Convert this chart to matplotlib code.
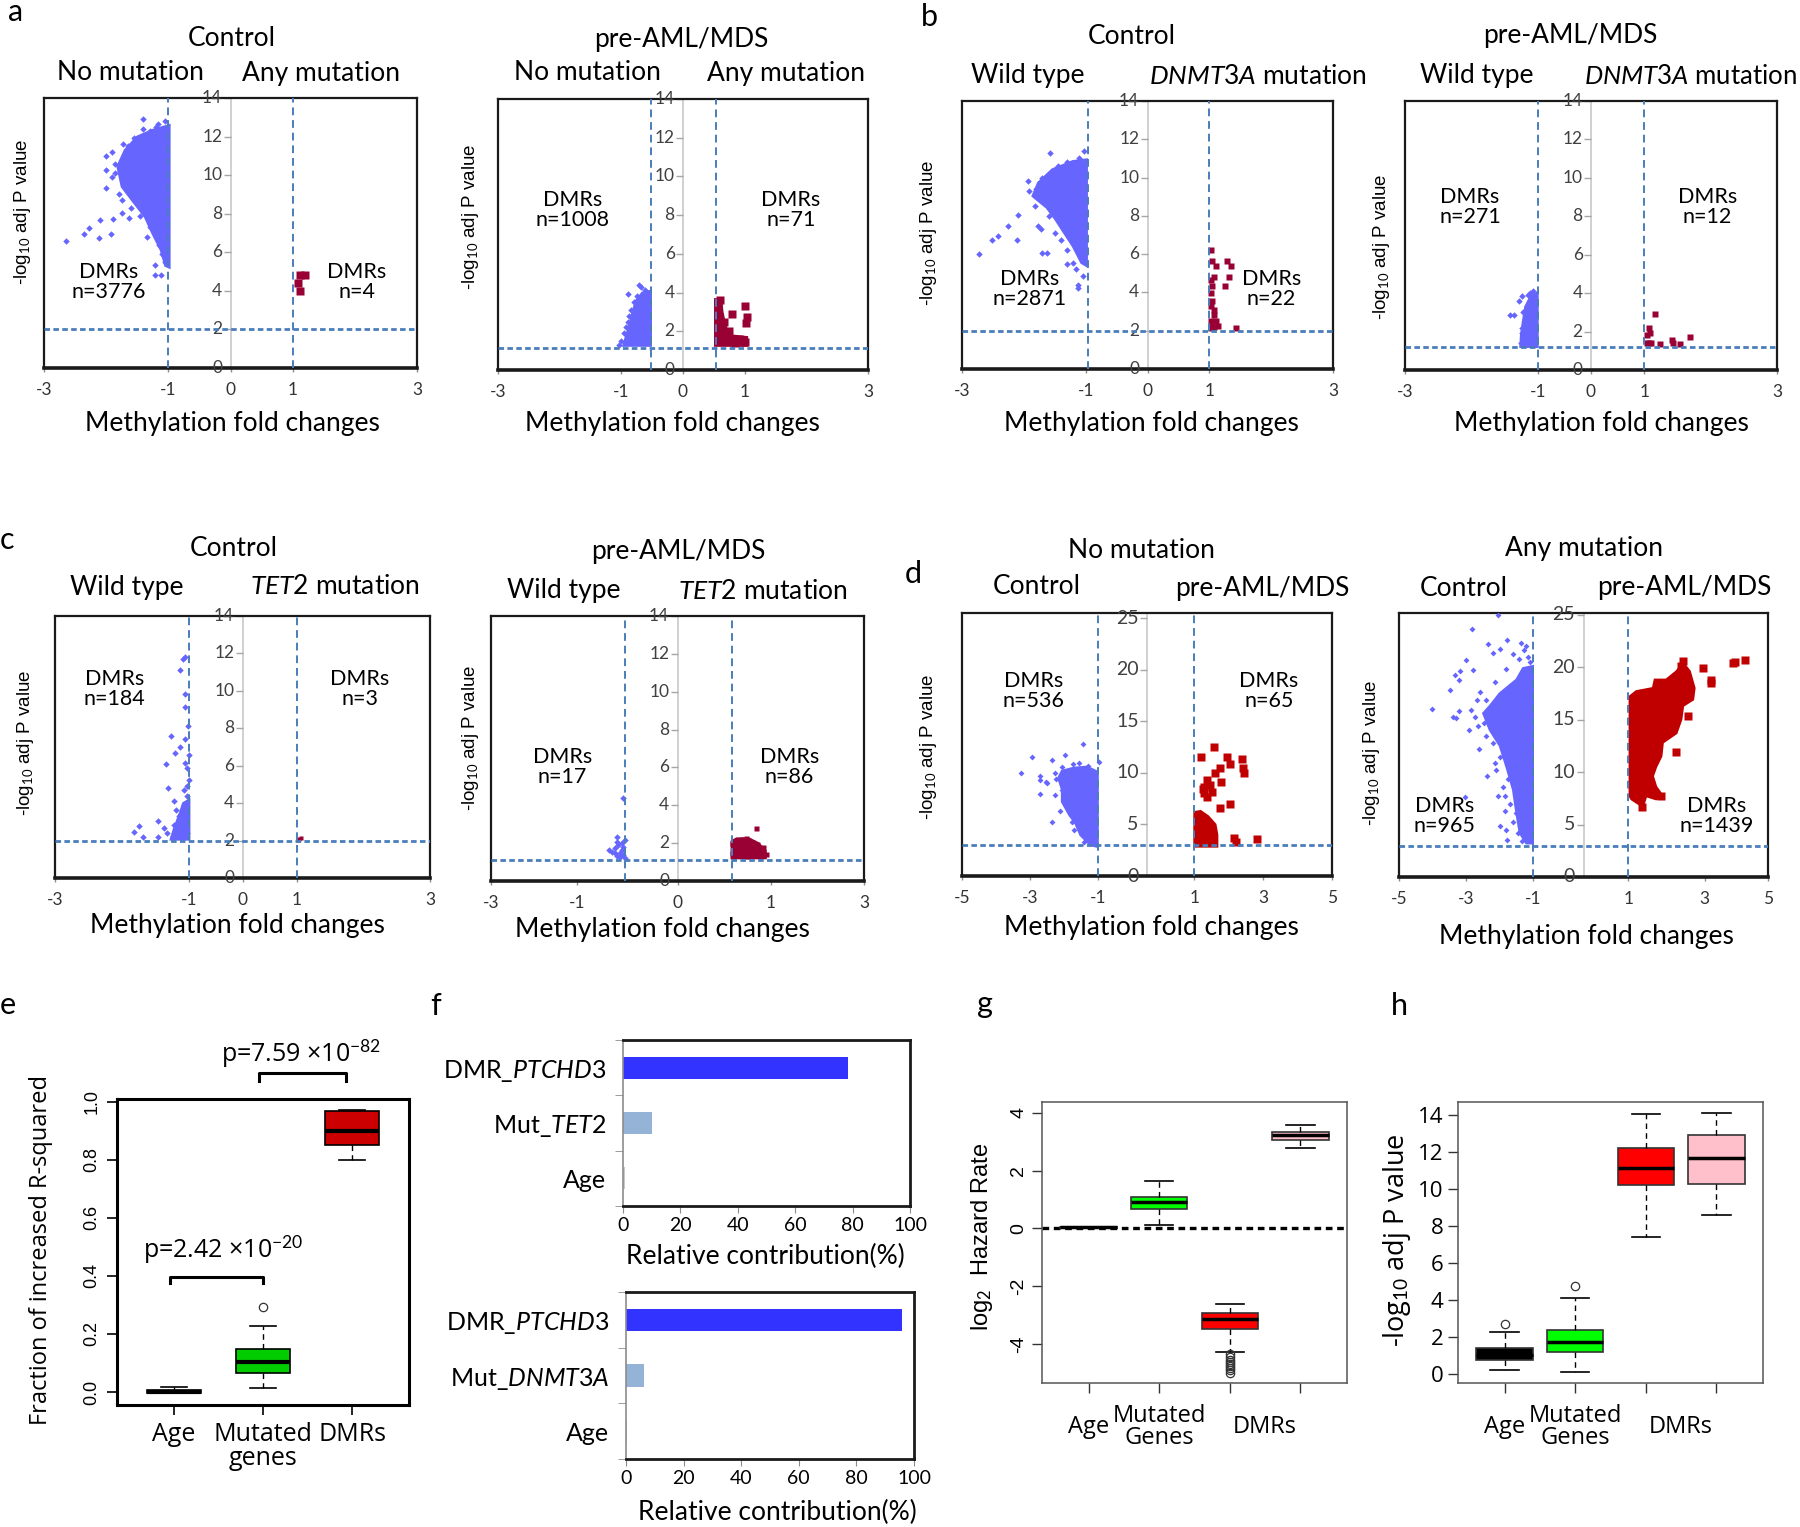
import numpy as np
import matplotlib
matplotlib.use('Agg')
import matplotlib.pyplot as plt
import matplotlib.transforms as mtransforms

W, H = 1800, 1527

plt.rcParams['font.family'] = ['Lato', 'DejaVu Sans']
plt.rcParams['mathtext.fontset'] = 'custom'
plt.rcParams['mathtext.rm'] = 'Lato'
plt.rcParams['mathtext.it'] = 'Lato:italic'
plt.rcParams['mathtext.bf'] = 'Lato:bold'

BLUE = '#6666ff'
MAROON = '#990033'
RED_D = '#c00000'
DASH = '#4a7ebb'
ARIAL = 'Liberation Sans'
SEGOE = 'Open Sans'

# ---- volcano points (fold change, -log10 adj P) ----
# *_CORE = outline of the solid part of a cloud, the rest are single points
A1_BLUE = [(-2.65, 6.6), (-2.35, 6.93), (-2.28, 7.24), (-2.10, 7.68), (-2.12, 6.72), (-1.93, 6.93),
           (-1.89, 7.71), (-1.75, 8.02), (-1.63, 7.76), (-2.0, 10.97), (-2.0, 10.27), (-2.0, 9.32),
           (-1.73, 11.6), (-1.75, 8.7), (-1.41, 12.93), (-1.16, 12.67), (-1.22, 5.34), (-1.22, 4.82),
           (-1.12, 4.82), (-1.06, 5.5), (-1.03, 5.94), (-1.85, 10.6), (-1.9, 9.9), (-1.8, 9.0),
           (-1.55, 11.9), (-1.3, 12.3), (-1.05, 12.8), (-1.6, 8.3), (-1.45, 7.9), (-1.3, 7.3),
           (-1.15, 6.4), (-1.9, 11.2), (-1.65, 11.5), (-1.85, 10.1), (-1.62, 9.0), (-1.35, 6.8),
           (-1.2, 6.9), (-1.1, 5.9), (-1.4, 12.4), (-1.2, 12.5)]
A1_BLUE_CORE = [(-0.98, 12.6), (-1.25, 12.35), (-1.5, 12.0), (-1.7, 11.3), (-1.82, 10.45), (-1.75, 9.4),
                (-1.55, 8.55), (-1.38, 7.85), (-1.26, 7.0), (-1.12, 6.1), (-1.05, 5.3), (-0.98, 5.2)]
A1_RED = [(1.12, 4.8), (1.2, 4.8), (1.08, 4.4), (1.11, 4.0)]

A2_BLUE = [(-0.71, 4.41), (-0.9, 3.92), (-0.62, 4.15), (-1.04, 1.3), (-0.8, 3.5), (-0.85, 3.1),
           (-0.9, 2.5), (-0.95, 1.9), (-1.0, 1.5), (-0.75, 3.8), (-0.68, 4.3), (-0.93, 2.2), (-0.88, 2.8)]
A2_BLUE_CORE = [(-0.52, 1.25), (-0.97, 1.25), (-0.92, 1.8), (-0.86, 2.4), (-0.82, 3.0), (-0.76, 3.6),
                (-0.66, 4.0), (-0.52, 4.1)]
A2_RED = [(1.0, 3.3), (1.04, 2.76), (0.80, 2.9), (1.02, 2.42), (0.66, 2.5), (0.6, 3.62), (0.75, 2.0),
          (0.9, 1.6), (1.0, 1.45), (0.56, 3.5), (0.85, 1.4), (0.7, 1.9)]
A2_RED_CORE = [(0.52, 1.25), (1.04, 1.25), (1.04, 1.7), (0.74, 1.8), (0.68, 2.4), (0.64, 3.0),
               (0.62, 3.6), (0.52, 3.65)]

B1_BLUE = [(-2.72, 6.03), (-2.52, 6.76), (-2.42, 6.94), (-2.26, 7.46), (-2.11, 6.76), (-2.10, 8.07),
           (-1.77, 7.46), (-1.72, 7.29), (-1.70, 6.07), (-1.63, 6.07), (-1.57, 11.26), (-1.30, 5.46),
           (-1.21, 5.54), (-1.12, 4.41), (-1.12, 4.24), (-1.04, 4.85), (-1.02, 11.38), (-1.94, 9.81),
           (-1.91, 9.29), (-1.82, 8.51), (-1.49, 7.11), (-1.40, 6.76), (-1.3, 10.8), (-1.45, 10.6),
           (-1.7, 10.0), (-1.1, 11.0), (-1.6, 8.0), (-1.3, 6.2), (-1.15, 5.2), (-1.8, 9.4)]
B1_BLUE_CORE = [(-0.98, 10.95), (-1.21, 10.86), (-1.54, 10.43), (-1.77, 9.73), (-1.86, 9.03),
                (-1.63, 8.42), (-1.49, 7.81), (-1.35, 7.11), (-1.21, 6.42), (-1.07, 5.54), (-0.98, 5.37)]
B1_RED = [(1.02, 6.24), (1.04, 5.63), (1.10, 5.37), (1.28, 5.63), (1.35, 5.37), (1.31, 4.81),
          (1.26, 4.36), (1.07, 4.79), (1.04, 4.36), (1.02, 3.98), (1.04, 3.54), (1.07, 3.10),
          (1.02, 2.49), (1.10, 2.49), (1.07, 2.2), (1.14, 2.23), (1.02, 2.14), (1.43, 2.14),
          (1.05, 2.3), (1.08, 2.84), (1.02, 3.28), (1.03, 4.67)]

B2_BLUE = [(-1.30, 2.87), (-1.16, 3.57), (-1.11, 3.83), (-1.02, 3.91), (-0.93, 4.09), (-0.98, 4.0),
           (-1.25, 2.87), (-1.13, 1.39), (-1.11, 1.91), (-1.07, 2.43), (-1.12, 2.2), (-1.1, 3.0)]
B2_BLUE_CORE = [(-0.86, 1.2), (-1.14, 1.2), (-1.13, 1.8), (-1.1, 2.5), (-1.06, 3.3), (-0.98, 3.8),
                (-0.86, 4.05)]
B2_RED = [(1.04, 2.92), (0.93, 2.17), (0.95, 1.91), (0.91, 1.83), (0.93, 1.39), (0.97, 1.39),
          (1.11, 1.34), (1.30, 1.57), (1.33, 1.39), (1.44, 1.34), (1.6, 1.70), (0.91, 1.43)]

C1_BLUE = [(-0.92, 11.83), (-0.96, 11.69), (-1.0, 11.12), (-0.92, 9.83), (-0.92, 9.13), (-1.15, 7.6),
           (-0.92, 7.45), (-1.0, 6.99), (-1.08, 6.67), (-1.23, 6.08), (-0.92, 6.14), (-0.89, 5.9),
           (-1.20, 4.80), (-0.94, 4.71), (-0.89, 4.93), (-1.09, 4.09), (-1.06, 3.65), (-1.01, 3.29),
           (-0.92, 3.47), (-1.35, 3.02), (-1.26, 2.67), (-1.21, 2.40), (-1.09, 2.85), (-1.03, 2.58),
           (-1.65, 2.76), (-1.73, 2.44), (-1.60, 2.17), (-1.35, 2.17), (-1.12, 2.22), (-0.96, 2.19),
           (-0.89, 2.40), (-0.98, 3.02), (-0.94, 3.91), (-0.89, 4.36), (-0.86, 5.24), (-0.86, 6.58),
           (-0.88, 8.1)]
C1_BLUE_CORE = [(-0.85, 2.05), (-1.15, 2.05), (-1.1, 2.6), (-1.0, 3.5), (-0.95, 4.0), (-0.85, 4.2)]
C1_RED = [(0.91, 2.08), (0.94, 2.13), (0.89, 2.05)]

C2_BLUE = [(-0.87, 4.38), (-0.98, 2.31), (-0.95, 1.91), (-1.06, 1.55), (-1.10, 1.64), (-0.89, 1.64),
           (-0.87, 1.38), (-0.92, 1.29), (-1.01, 1.47), (-0.85, 2.17), (-0.97, 2.08), (-0.87, 1.82),
           (-1.01, 1.73), (-0.92, 1.50), (-0.85, 1.2), (-0.97, 1.32), (-0.89, 2.0)]
C2_RED = [(0.9, 1.3), (0.95, 1.5), (0.92, 1.8), (0.98, 2.1), (1.0, 1.35), (1.05, 1.6), (1.08, 1.9),
          (1.03, 2.2), (1.12, 1.3), (1.15, 1.55), (1.18, 1.85), (1.14, 2.15), (1.22, 1.35),
          (1.25, 1.6), (1.28, 1.95), (1.32, 1.3), (1.35, 1.55), (1.38, 1.8), (1.42, 1.4),
          (1.26, 2.79), (0.88, 1.5), (0.88, 2.0), (1.1, 2.25), (1.2, 2.05), (1.3, 1.65)]
C2_RED_CORE = [(0.87, 1.2), (1.42, 1.2), (1.42, 1.6), (1.30, 2.0), (1.15, 2.25), (0.95, 2.25),
               (0.87, 2.1)]

D1_BLUE = [(-3.40, 9.97), (-3.11, 11.5), (-2.90, 9.74), (-2.88, 9.32), (-2.72, 9.16), (-2.57, 11.2),
           (-2.21, 11.7), (-1.73, 12.8), (-2.88, 7.92), (-2.57, 5.26), (-1.98, 4.45), (-2.48, 7.86),
           (-2.70, 9.0), (-1.31, 11.1), (-2.03, 5.26), (-1.71, 3.31), (-2.3, 10.6), (-2.0, 10.9),
           (-1.6, 10.7), (-2.45, 9.4), (-2.3, 8.3), (-2.2, 6.8), (-1.9, 5.6), (-2.5, 10.0),
           (-2.35, 6.3), (-1.85, 11.0), (-1.55, 3.6)]
D1_BLUE_CORE = [(-1.33, 10.1), (-1.62, 10.6), (-1.98, 10.5), (-2.3, 10.2), (-2.4, 9.5), (-2.3, 8.4),
                (-2.3, 7.2), (-2.1, 5.9), (-1.95, 5.2), (-1.80, 3.96), (-1.53, 2.99), (-1.33, 2.82)]
D1_RED = [(1.80, 12.5), (1.46, 11.5), (2.16, 11.5), (2.57, 11.3), (2.25, 10.9), (1.96, 10.5),
          (2.59, 10.5), (2.63, 9.97), (1.85, 9.97), (1.62, 9.32), (2.0, 9.09), (1.53, 8.67),
          (1.53, 8.02), (1.62, 7.69), (1.76, 8.1), (2.23, 7.01), (1.96, 6.56), (2.97, 3.57),
          (2.34, 3.64), (2.41, 3.31), (1.5, 8.4), (1.7, 8.8)]
D1_RED_CORE = [(1.28, 2.85), (1.28, 6.2), (1.45, 6.3), (1.65, 5.8), (1.85, 5.0), (1.9, 4.0),
               (1.9, 2.85)]

D2_BLUE = [(-2.32, 25.0), (-3.01, 23.6), (-3.18, 20.7), (-3.34, 19.6), (-3.49, 19.2), (-3.37, 18.8),
           (-2.99, 19.7), (-3.61, 17.8), (-4.10, 16.0), (-3.54, 15.2), (-3.45, 15.1), (-3.38, 15.8),
           (-3.11, 14.0), (-2.83, 12.2), (-2.62, 9.65), (-3.22, 7.6), (-2.32, 7.75), (-2.12, 7.7),
           (-2.27, 4.83), (-2.11, 4.51), (-2.07, 3.49), (-2.59, 22.2), (-2.07, 22.6), (-2.27, 21.7),
           (-2.45, 21.3), (-1.70, 22.3), (-1.91, 21.2), (-2.89, 16.9), (-3.04, 15.9), (-2.63, 16.9),
           (-2.86, 14.4), (-2.63, 13.4), (-2.41, 10.9), (-2.38, 10.2), (-2.18, 8.6), (-2.14, 6.26),
           (-1.84, 6.1), (-1.77, 4.2), (-1.68, 3.4), (-1.6, 21.6), (-1.5, 21.0), (-1.45, 20.5),
           (-1.75, 20.8), (-1.55, 22.0), (-2.1, 19.8), (-2.4, 18.6), (-2.8, 17.6), (-2.95, 15.2),
           (-2.7, 14.7), (-2.45, 12.8), (-2.25, 11.4), (-2.05, 9.3), (-2.0, 7.0), (-1.9, 5.2)]
D2_BLUE_CORE = [(-1.37, 20.1), (-1.64, 19.9), (-1.82, 18.8), (-2.27, 17.5), (-2.54, 16.3),
                (-2.72, 15.6), (-2.54, 14.0), (-2.27, 12.5), (-2.09, 10.5), (-1.91, 8.3),
                (-1.82, 6.1), (-1.73, 4.2), (-1.55, 3.2), (-1.37, 3.2)]
D2_RED = [(4.39, 20.7), (4.10, 20.5), (4.05, 20.4), (3.24, 19.9), (3.46, 18.8), (3.46, 18.5),
          (2.83, 15.3), (2.52, 11.9), (1.59, 6.67), (2.70, 20.6), (2.11, 7.7), (2.65, 20.1)]
D2_RED_CORE = [(1.25, 17.2), (1.43, 17.7), (1.88, 18.0), (1.93, 18.8), (2.24, 18.8), (2.52, 19.6),
               (2.70, 20.4), (2.88, 19.6), (3.01, 18.0), (2.97, 16.9), (2.70, 16.3), (2.65, 15.0),
               (2.52, 13.7), (2.15, 12.8), (2.11, 11.5), (1.97, 10.5), (1.88, 9.6), (1.97, 8.6),
               (2.15, 7.7), (1.97, 7.4), (1.70, 7.7), (1.61, 6.7), (1.43, 7.1), (1.30, 7.4),
               (1.25, 7.7)]

# ---- e: fraction of increased R-squared ----
E_LABELS = ['Age', 'Mutated\ngenes', 'DMRs']
E_Q1 = [-0.003, 0.064, 0.852]
E_MED = [0.0, 0.102, 0.90]
E_Q3 = [0.008, 0.148, 0.969]
E_LO = [-0.003, 0.014, 0.798]
E_HI = [0.018, 0.228, 0.972]
E_FLIERS = [[], [0.292], []]
E_PVALS = ['p=2.42 ×10$^{-20}$', 'p=7.59 ×10$^{-82}$']

# ---- f: relative contribution (%) ----
F1_LABELS = ['DMR_$\\mathit{PTCHD3}$', 'Mut_$\\mathit{TET2}$', 'Age']
F1_VALUES = [78.5, 10.2, 0.8]
F2_LABELS = ['DMR_$\\mathit{PTCHD3}$', 'Mut_$\\mathit{DNMT3A}$', 'Age']
F2_VALUES = [95.7, 6.4, 0.3]

# ---- g: log2 hazard rate ----
G_Q1 = [0.0, 0.68, -3.48, 3.08]
G_MED = [0.03, 0.91, -3.13, 3.23]
G_Q3 = [0.06, 1.09, -2.92, 3.34]
G_LO = [0.0, 0.10, -4.29, 2.80]
G_HI = [0.06, 1.64, -2.61, 3.57]
G_FLIERS = [[], [], [-4.35, -4.45, -4.55, -4.62, -4.70, -4.78, -4.85, -4.92, -5.0], []]

# ---- h: -log10 adj P ----
H_Q1 = [0.73, 1.16, 10.19, 10.28]
H_MED = [1.05, 1.72, 11.15, 11.65]
H_Q3 = [1.39, 2.38, 12.19, 12.93]
H_LO = [0.21, 0.12, 7.41, 8.61]
H_HI = [2.29, 4.11, 14.05, 14.13]
H_FLIERS = [[2.69], [4.76], [], []]

GH_LABELS = ['Age', 'Mutated\nGenes', 'DMRs']
GH_LABEL_X = [1, 2, 3.5]
BOX_COLORS = ['black', '#00ff00', '#ff0000', '#ffc0cb']

fig = plt.figure(figsize=(W / 100, H / 100), dpi=100)


def add_ax(box):
    x0, y0, x1, y1 = box
    return fig.add_axes([x0 / W, 1 - y1 / H, (x1 - x0) / W, (y1 - y0) / H])


def ftext(x, y, s, **kw):
    fig.text(x / W, 1 - y / H, s, ha=kw.pop('ha', 'center'), va=kw.pop('va', 'center'), **kw)


def volcano(ax, p):
    ax.set_xlim(p['xlim'])
    ax.set_ylim(p['ylim'])
    ax.axvline(0, color='#c8c8c8', lw=1.2, zorder=1)
    for v in p['vlines']:
        ax.axvline(v, color=DASH, lw=1.4, ls=(0, (4, 2.5)), zorder=5)
    ax.axhline(p['hline'], color=DASH, lw=2.0, ls=(0, (2, 1.2)), zorder=5)

    groups = [(p['blue'], p['blue_core'], BLUE, 'D', p['bms']),
              (p['red'], p['red_core'], p['rc'], 's', p['rms'])]
    for pts, core, color, marker, ms in groups:
        if core:
            cx, cy = zip(*core)
            ax.fill(cx, cy, color=color, lw=1.5, zorder=3)
        px, py = zip(*pts)
        ax.plot(px, py, ls='none', marker=marker, ms=ms, color=color, mec='none', zorder=4)

    yt = list(p['yticks'])
    ax.plot([0] * len(yt), yt, ls='none', marker=0, ms=5, mew=1, color='#a6a6a6', zorder=2)
    for t in yt:
        ax.annotate(str(t), (0, t), xytext=(-6, 0), textcoords='offset points', ha='right',
                    va='center', fontsize=p['yfs'], color='#404040', annotation_clip=False)
    ax.set_yticks([])
    ax.set_xticks(p['xticks'], p['xlabels'])
    ax.tick_params(axis='x', length=3, width=1, color='#8c8c8c', labelsize=12.5,
                   labelcolor='#333333', pad=7)
    for s in ax.spines.values():
        s.set_linewidth(1.6)
        s.set_color('#1a1a1a')
    ax.spines['bottom'].set_linewidth(2.6)
    for tx, ty, s in (p['ltxt'], p['rtxt']):
        ax.text(tx, ty, s, ha='center', va='center', fontsize=15.5, linespacing=1.0, zorder=6)


EX = ['-3', '-1', '0', '1', '3']
DX = ['-5', '-3', '-1', '1', '3', '5']
PANELS = [
    dict(box=(44, 98, 417, 368), xlim=(-3, 3), ylim=(0, 14), yticks=range(0, 15, 2), yfs=12.5,
         xticks=[-3, -1, 0, 1, 3], xlabels=EX, vlines=[-1, 1], hline=2.0,
         blue=A1_BLUE, blue_core=A1_BLUE_CORE, red=A1_RED, red_core=None, rc=MAROON, bms=3.3, rms=5.8,
         ltxt=(-1.96, 4.45, 'DMRs\nn=3776'), rtxt=(2.03, 4.45, 'DMRs\nn=4')),
    dict(box=(498, 99, 868, 370), xlim=(-3, 3), ylim=(0, 14), yticks=range(0, 15, 2), yfs=12.5,
         xticks=[-3, -1, 0, 1, 3], xlabels=EX, vlines=[-0.52, 0.53], hline=1.16,
         blue=A2_BLUE, blue_core=A2_BLUE_CORE, red=A2_RED, red_core=A2_RED_CORE, rc=MAROON, bms=3.3,
         rms=5.8, ltxt=(-1.79, 8.25, 'DMRs\nn=1008'), rtxt=(1.75, 8.25, 'DMRs\nn=71')),
    dict(box=(962, 101, 1333, 369), xlim=(-3, 3), ylim=(0, 14), yticks=range(0, 15, 2), yfs=12.5,
         xticks=[-3, -1, 0, 1, 3], xlabels=EX, vlines=[-0.97, 1.0], hline=2.0,
         blue=B1_BLUE, blue_core=B1_BLUE_CORE, red=B1_RED, red_core=None, rc=MAROON, bms=3.3, rms=4.3,
         ltxt=(-1.91, 4.2, 'DMRs\nn=2871'), rtxt=(2.0, 4.2, 'DMRs\nn=22')),
    dict(box=(1405, 101, 1777, 370), xlim=(-3, 3), ylim=(0, 14), yticks=range(0, 15, 2), yfs=12.5,
         xticks=[-3, -0.86, 0, 0.86, 3], xlabels=EX, vlines=[-0.86, 0.86], hline=1.18,
         blue=B2_BLUE, blue_core=B2_BLUE_CORE, red=B2_RED, red_core=None, rc=MAROON, bms=3.3, rms=4.3,
         ltxt=(-1.95, 8.5, 'DMRs\nn=271'), rtxt=(1.88, 8.5, 'DMRs\nn=12')),
    dict(box=(55, 616, 430, 878), xlim=(-3, 3), ylim=(0, 14), yticks=range(0, 15, 2), yfs=12.5,
         xticks=[-3, -0.85, 0, 0.87, 3], xlabels=EX, vlines=[-0.85, 0.87], hline=2.0,
         blue=C1_BLUE, blue_core=C1_BLUE_CORE, red=C1_RED, red_core=None, rc=MAROON, bms=3.3, rms=3.0,
         ltxt=(-2.05, 10.1, 'DMRs\nn=184'), rtxt=(1.88, 10.1, 'DMRs\nn=3')),
    dict(box=(491, 616, 864, 881), xlim=(-3, 3), ylim=(0, 14), yticks=range(0, 15, 2), yfs=12.5,
         xticks=[-3, -1.62, 0, 1.5, 3], xlabels=EX, vlines=[-0.85, 0.87], hline=1.11,
         blue=C2_BLUE, blue_core=None, red=C2_RED, red_core=C2_RED_CORE, rc=MAROON, bms=3.3, rms=3.6,
         ltxt=(-1.85, 6.0, 'DMRs\nn=17'), rtxt=(1.8, 6.0, 'DMRs\nn=86')),
    dict(box=(962, 613, 1332, 876), xlim=(-5, 5), ylim=(0, 25.5), yticks=range(0, 26, 5), yfs=14,
         xticks=[-5, -3.17, -1.33, 1.28, 3.14, 5], xlabels=DX, vlines=[-1.33, 1.28], hline=3.0,
         blue=D1_BLUE, blue_core=D1_BLUE_CORE, red=D1_RED, red_core=D1_RED_CORE, rc=RED_D, bms=3.0,
         rms=5.2, ltxt=(-3.06, 17.9, 'DMRs\nn=536'), rtxt=(3.29, 17.9, 'DMRs\nn=65')),
    dict(box=(1399, 613, 1768, 877), xlim=(-5, 5), ylim=(0, 25.15), yticks=range(0, 26, 5), yfs=14,
         xticks=[-5, -3.18, -1.37, 1.21, 3.28, 5], xlabels=DX, vlines=[-1.37, 1.21], hline=3.0,
         blue=D2_BLUE, blue_core=D2_BLUE_CORE, red=D2_RED, red_core=D2_RED_CORE, rc=RED_D, bms=3.0,
         rms=5.2, ltxt=(-3.76, 5.83, 'DMRs\nn=965'), rtxt=(3.6, 5.83, 'DMRs\nn=1439')),
]

for p in PANELS:
    volcano(add_ax(p['box']), p)

# headers above / labels around the volcano plots (pixel centres)
HEADERS = [
    (232, 39, 'Control'), (130, 73, 'No mutation'), (321, 73, 'Any mutation'),
    (681, 39, 'pre-AML/MDS'), (587, 73, 'No mutation'), (786, 73, 'Any mutation'),
    (1132, 36, 'Control'), (1028, 76, 'Wild type'), (1258, 76, '$\\mathit{DNMT3A}$ mutation'),
    (1570, 36, 'pre-AML/MDS'), (1477, 76, 'Wild type'),
    (234, 548, 'Control'), (127, 587, 'Wild type'), (335, 587, '$\\mathit{TET2}$ mutation'),
    (678, 552, 'pre-AML/MDS'), (564, 591, 'Wild type'), (763, 592, '$\\mathit{TET2}$ mutation'),
    (1141, 550, 'No mutation'), (1037, 587, 'Control'), (1262, 589, 'pre-AML/MDS'),
    (1584, 548, 'Any mutation'), (1464, 589, 'Control'), (1684, 587, 'pre-AML/MDS'),
]
for x, y, s in HEADERS:
    ftext(x, y, s, fontsize=19)
# this one runs up to the right edge of the figure in the original
ftext(1797, 76, '$\\mathit{DNMT3A}$ mutation', fontsize=18.5, ha='right')

for x, y in [(232, 424), (672, 424), (1151, 424), (1601, 424),
             (237, 925), (662, 930), (1151, 927), (1586, 937)]:
    ftext(x, y, 'Methylation fold changes', fontsize=19)

for x, y in [(23, 212), (470, 217), (929, 233), (1382, 247),
             (26, 743), (470, 738), (929, 747), (1372, 753)]:
    ftext(x, y, '-log$_{10}$ adj P value', fontsize=13.5, rotation=90, family=ARIAL)

for x, y, s in [(16, 12, 'a'), (929, 17, 'b'), (7, 540, 'c'), (913, 574, 'd'),
                (8, 1005, 'e'), (436, 1006, 'f'), (985, 1004, 'g'), (1399, 1006, 'h')]:
    ftext(x, y, s, fontsize=22)


def rbox(ax, q1, med, q3, lo, hi, fliers, colors, width, edge, medlw):
    stats = [dict(q1=a, med=b, q3=c, whislo=d, whishi=e, fliers=f)
             for a, b, c, d, e, f in zip(q1, med, q3, lo, hi, fliers)]
    bp = ax.bxp(stats, positions=range(1, len(stats) + 1), widths=width, capwidths=width / 2,
                patch_artist=True, manage_ticks=False,
                boxprops=dict(edgecolor=edge, lw=1.2),
                medianprops=dict(color='black', lw=medlw, solid_capstyle='butt'),
                whiskerprops=dict(color='black', lw=1, ls=(0, (4, 3))),
                capprops=dict(color='black', lw=1.2),
                flierprops=dict(marker='o', mfc='none', mec='#333333', ms=6, mew=0.9))
    for patch, c in zip(bp['boxes'], colors):
        patch.set_facecolor(c)


# ---- e ----
ax = add_ax((117, 1099, 409, 1405))
rbox(ax, E_Q1, E_MED, E_Q3, E_LO, E_HI, E_FLIERS, ['#006400', '#00cc00', '#cc0000'], 0.6, 'black', 3)
ax.set_xlim(0.36, 3.64)
ax.set_ylim(-0.045, 1.01)
ax.set_yticks(np.arange(0, 1.01, 0.2), ['%.1f' % v for v in np.arange(0, 1.01, 0.2)],
              rotation=90, va='center', family=ARIAL, fontsize=13)
ax.set_xticks([1, 2, 3], E_LABELS, family=SEGOE, fontsize=18, linespacing=0.95)
ax.tick_params(length=7, width=1.2, pad=5)
for s in ax.spines.values():
    s.set_linewidth(2.2)
for (x0, x1, yb, yl), s, (tx, ty) in zip([(0.955, 2.0, 0.396, 0.375), (1.95, 2.93, 1.098, 1.072)],
                                        E_PVALS, [(1.55, 0.49), (2.43, 1.165)]):
    ax.plot([x0, x0, x1, x1], [yl, yb, yb, yl], color='black', lw=2.2, clip_on=False)
    ax.text(tx, ty, s, ha='center', va='center', fontsize=18, family=SEGOE, clip_on=False)
ftext(41, 1250, 'Fraction of increased R-squared', fontsize=17, rotation=90, family=SEGOE)


# ---- f ----
def contrib(ax, labels, values):
    y = np.arange(len(labels))[::-1]
    ax.barh(y, values, height=0.4, color=['#3333ff', '#95b3d7', '#c8c8c8'])
    ax.set_ylim(-0.5, len(labels) - 0.5)
    ax.set_xlim(0, 100)
    ax.set_yticks(y, labels, fontsize=18)
    ax.set_yticks(np.arange(-0.5, len(labels)), minor=True)
    ax.tick_params(axis='y', which='major', length=0, pad=12)
    ax.tick_params(axis='y', which='minor', length=6, color='#8c8c8c')
    ax.set_xticks(range(0, 101, 20))
    ax.tick_params(axis='x', length=5, color='#8c8c8c', labelsize=14, pad=3)
    for s in ax.spines.values():
        s.set_linewidth(2)
        s.set_color('#1a1a1a')
    ax.spines['left'].set_color('#8c8c8c')
    ax.spines['left'].set_linewidth(1.2)


contrib(add_ax((623, 1040, 910, 1206)), F1_LABELS, F1_VALUES)
contrib(add_ax((626, 1292, 914, 1459)), F2_LABELS, F2_VALUES)
ftext(765, 1256, 'Relative contribution(%)', fontsize=19)
ftext(777, 1512, 'Relative contribution(%)', fontsize=19)


# ---- g and h ----
def group_axis(ax, ylab_y):
    ax.set_xlim(0.34, 4.66)
    ax.set_xticks([1, 2, 3, 4], [])
    ax.tick_params(length=7, width=1, color='#333333')
    for s in ax.spines.values():
        s.set_linewidth(1.1)
        s.set_color('#555555')
    tr = mtransforms.blended_transform_factory(ax.transData, ax.transAxes)
    for x, s in zip(GH_LABEL_X, GH_LABELS):
        ax.text(x, ylab_y, s, transform=tr, ha='center', va='center', fontsize=17,
                family=SEGOE, linespacing=0.85)


ax = add_ax((1042, 1102, 1347, 1383))
ax.axhline(0, color='black', lw=2.4, ls=(0, (2, 1.4)), zorder=1)
rbox(ax, G_Q1, G_MED, G_Q3, G_LO, G_HI, G_FLIERS, BOX_COLORS, 0.8, '#333333', 2.5)
ax.set_ylim(-5.36, 4.38)
ax.set_yticks([-4, -2, 0, 2, 4], ['-4', '-2', '0', '2', '4'], rotation=90, va='center',
              family=ARIAL, fontsize=14)
group_axis(ax, -0.157)
ftext(982, 1237, 'log$_2$  Hazard Rate', fontsize=17, rotation=90, family=ARIAL)

ax = add_ax((1458, 1102, 1763, 1383))
rbox(ax, H_Q1, H_MED, H_Q3, H_LO, H_HI, H_FLIERS, BOX_COLORS, 0.8, '#333333', 2.5)
ax.set_ylim(-0.49, 14.7)
ax.set_yticks(range(0, 15, 2), [str(v) for v in range(0, 15, 2)], family=SEGOE, fontsize=16)
group_axis(ax, -0.157)
ftext(1397, 1240, '-log$_{10}$ adj P value', fontsize=19.5, rotation=90, family=SEGOE)

fig.savefig('out.png', dpi=100, facecolor='white')
